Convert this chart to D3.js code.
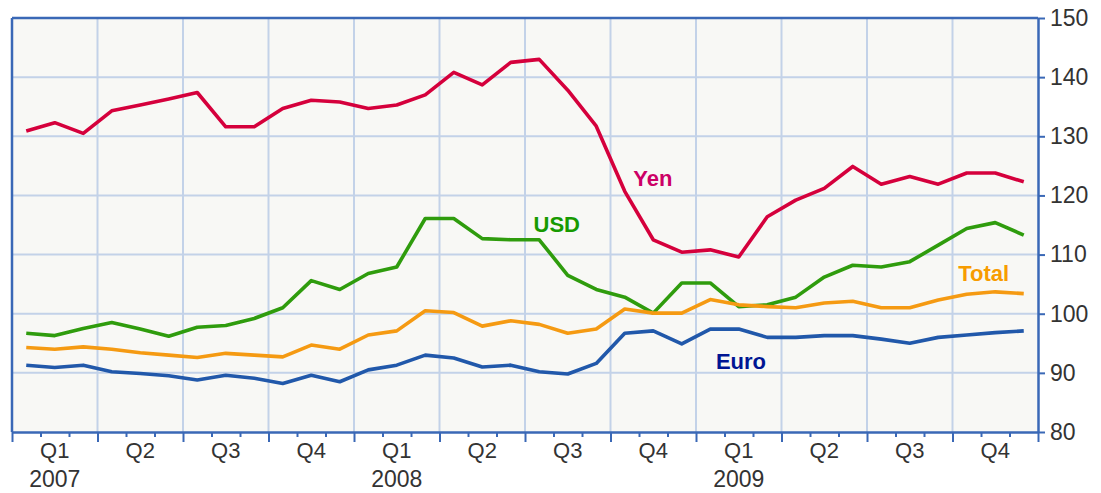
<!DOCTYPE html>
<html>
<head>
<meta charset="utf-8">
<script src="https://cdn.jsdelivr.net/npm/d3@7"></script>
<style>
  body { margin: 0; background: #fff; }
  svg { display: block; font-family: Arial, "Liberation Sans", sans-serif; }
</style>
</head>
<body>
<div id="chart"><svg></svg></div>
<script>
// monthly index values, Jan 2007 - Dec 2009
const months = d3.range(36)
const yen = [130.9,132.3,130.5,134.3,135.3,136.3,137.4,131.6,131.6,134.7,136.1,135.8,
             134.7,135.3,137.0,140.8,138.7,142.5,143.0,137.8,131.7,120.7,112.5,110.4,
             110.8,109.6,116.4,119.2,121.2,124.9,121.9,123.2,121.9,123.8,123.8,122.3]
const usd = [96.7,96.3,97.5,98.5,97.4,96.2,97.7,98.0,99.2,101.0,105.6,104.1,
             106.8,107.9,116.1,116.1,112.7,112.5,112.5,106.5,104.1,102.8,100.1,105.2,
             105.2,101.2,101.5,102.8,106.2,108.2,107.9,108.8,111.6,114.4,115.4,113.3]
const total = [94.3,94.0,94.4,94.0,93.4,93.0,92.6,93.3,93.0,92.7,94.7,94.0,
               96.4,97.1,100.5,100.2,97.9,98.8,98.2,96.7,97.4,100.8,100.1,100.1,
               102.4,101.5,101.2,101.0,101.8,102.1,101.0,101.0,102.3,103.3,103.7,103.4]
const euro = [91.3,90.9,91.3,90.2,89.9,89.5,88.8,89.6,89.1,88.2,89.6,88.5,
              90.5,91.3,93.0,92.5,91.0,91.3,90.2,89.8,91.6,96.7,97.1,94.9,
              97.4,97.4,96.0,96.0,96.3,96.3,95.7,95.0,96.0,96.4,96.8,97.1]
const quarterLabels = ["Q1","Q2","Q3","Q4"]
const yearLabels = ["2007","2008","2009"]
const yTicks = [80,90,100,110,120,130,140,150]

const series = [
  {name:"Yen", values:yen, line:"#d5003c", text:"#cc0066", at:[21.8,121.6]},
  {name:"USD", values:usd, line:"#2f9c0d", text:"#179a00", at:[18.3,113.8]},
  {name:"Total", values:total, line:"#f59a12", text:"#f79c00", at:[33.2,105.5]},
  {name:"Euro", values:euro, line:"#2158aa", text:"#001593", at:[24.7,90.6]}
]

const W = 1101, H = 493
const svg = d3.select("#chart svg").attr("width",W).attr("height",H)

const x = d3.scaleLinear().domain([0,36]).range([12,1038])
const y = d3.scaleLinear().domain([80,150]).range([432,18])

// plot background
svg.append("rect")
  .attr("x",x(0)).attr("y",y(150))
  .attr("width",x(36)-x(0)).attr("height",y(80)-y(150))
  .attr("fill","#f8f8f5")

// grid
const grid = svg.append("g")
grid.selectAll(".vg").data(d3.range(3,36,3)).join("line")
  .attr("x1",d=>x(d)).attr("x2",d=>x(d))
  .attr("y1",y(150)).attr("y2",y(80))
  .attr("stroke","#c3d2e8").attr("stroke-width",2)
grid.selectAll(".hg").data(yTicks.slice(1,-1)).join("line")
  .attr("x1",x(0)).attr("x2",x(36))
  .attr("y1",d=>y(d)).attr("y2",d=>y(d))
  .attr("stroke","#c3d2e8").attr("stroke-width",2)

// lines
const line = d3.line().x((d,i)=>x(i+0.5)).y(d=>y(d))
svg.selectAll(".series").data(series).join("path")
  .attr("d",d=>line(d.values))
  .attr("fill","none")
  .attr("stroke",d=>d.line)
  .attr("stroke-width",3.6)
  .attr("stroke-linejoin","round")

// series labels
svg.selectAll(".lbl").data(series).join("text")
  .attr("x",d=>x(d.at[0])).attr("y",d=>y(d.at[1]))
  .attr("fill",d=>d.text)
  .attr("font-size",22).attr("font-weight","bold")
  .text(d=>d.name)

// frame
const axisColor = "#3a68b6"
svg.append("line").attr("x1",x(0)).attr("x2",x(0)).attr("y1",y(150)).attr("y2",y(80))
  .attr("stroke",axisColor).attr("stroke-width",2.5)
svg.append("line").attr("x1",x(0)).attr("x2",x(36)).attr("y1",y(150)).attr("y2",y(150))
  .attr("stroke",axisColor).attr("stroke-width",2.5)

// bottom axis
const xAxis = svg.append("g")
  .attr("transform",`translate(0,${y(80)})`)
  .call(d3.axisBottom(x).tickValues(d3.range(0,37)).tickFormat("").tickSizeOuter(0))
xAxis.select(".domain").attr("stroke",axisColor).attr("stroke-width",2.5)
xAxis.selectAll(".tick line")
  .attr("stroke",axisColor).attr("stroke-width",2)
  .attr("y2",d=>d%3===0 ? 10 : 5)

svg.selectAll(".ql").data(d3.range(12)).join("text")
  .attr("x",d=>x(d*3+1.5)).attr("y",458)
  .attr("text-anchor","middle").attr("font-size",22).attr("fill","#333")
  .text(d=>quarterLabels[d%4])
svg.selectAll(".yl").data(yearLabels).join("text")
  .attr("x",(d,i)=>x(i*12+1.5)).attr("y",487)
  .attr("text-anchor","middle").attr("font-size",23).attr("fill","#333")
  .text(d=>d)

// right axis
const yAxis = svg.append("g")
  .attr("transform",`translate(${x(36)},0)`)
  .call(d3.axisRight(y).tickValues(yTicks).tickSize(7).tickSizeOuter(0).tickPadding(5))
yAxis.select(".domain").attr("stroke",axisColor).attr("stroke-width",2.5)
yAxis.selectAll(".tick line").attr("stroke",axisColor).attr("stroke-width",2)
yAxis.selectAll(".tick text")
  .attr("font-size",23).attr("fill","#333")
  .attr("font-family","Arial, 'Liberation Sans', sans-serif")
</script>
</body>
</html>
